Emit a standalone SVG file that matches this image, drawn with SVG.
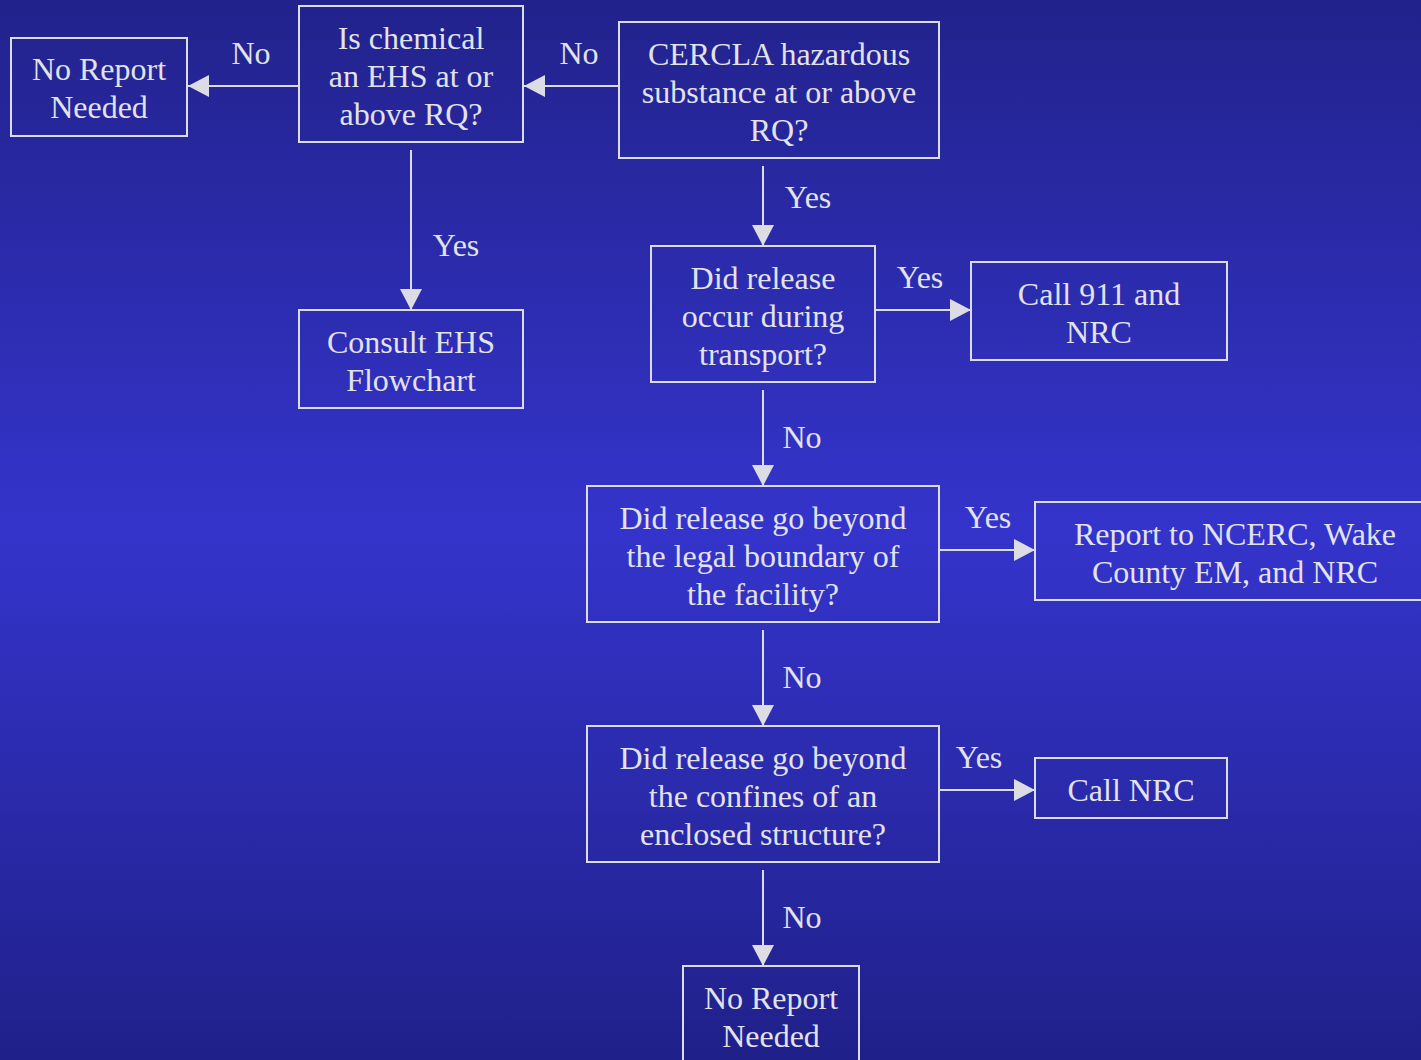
<svg xmlns="http://www.w3.org/2000/svg" width="1421" height="1060" viewBox="0 0 1421 1060">
<defs>
<linearGradient id="bg" x1="0" y1="0" x2="0" y2="1">
<stop offset="0" stop-color="#22228c"/>
<stop offset="0.5" stop-color="#3434cc"/>
<stop offset="1" stop-color="#20208a"/>
</linearGradient>
<marker id="ah" markerWidth="22" markerHeight="22" viewBox="0 0 22 22" refX="21" refY="11" orient="auto" markerUnits="userSpaceOnUse">
<path d="M0,0 L21,11 L0,22 Z" fill="#dcdce4"/>
</marker>
<style>
.box{fill:none;stroke:#dcdce4;stroke-width:2}
.t{font-family:"Liberation Serif","Times New Roman",serif;font-size:32px;fill:#e2e2ea;text-anchor:middle}
.c{stroke:#dcdce4;stroke-width:2;fill:none;marker-end:url(#ah)}
</style>
</defs>
<rect x="0" y="0" width="1421" height="1060" fill="url(#bg)"/>
<g id="connectors">
<line class="c" x1="619" y1="86" x2="524" y2="86"/>
<line class="c" x1="299" y1="86" x2="188" y2="86"/>
<line class="c" x1="411" y1="150" x2="411" y2="310"/>
<line class="c" x1="763" y1="166" x2="763" y2="246"/>
<line class="c" x1="875" y1="310" x2="971" y2="310"/>
<line class="c" x1="763" y1="390" x2="763" y2="486"/>
<line class="c" x1="939" y1="550" x2="1035" y2="550"/>
<line class="c" x1="763" y1="630" x2="763" y2="726"/>
<line class="c" x1="939" y1="790" x2="1035" y2="790"/>
<line class="c" x1="763" y1="870" x2="763" y2="966"/>
<text class="t" x="579" y="64">No</text>
<text class="t" x="251" y="64">No</text>
<text class="t" x="456" y="256">Yes</text>
<text class="t" x="808" y="208">Yes</text>
<text class="t" x="920" y="288">Yes</text>
<text class="t" x="802" y="448">No</text>
<text class="t" x="988" y="528">Yes</text>
<text class="t" x="802" y="688">No</text>
<text class="t" x="979" y="768">Yes</text>
<text class="t" x="802" y="928">No</text>
</g>
<g id="noReport1">
<rect class="box" x="11" y="38" width="176" height="98"/>
<text class="t" x="99" y="80">No Report</text>
<text class="t" x="99" y="118">Needed</text>
</g>
<g id="isEHS">
<rect class="box" x="299" y="6" width="224" height="136"/>
<text class="t" x="411" y="49">Is chemical</text>
<text class="t" x="411" y="87">an EHS at or</text>
<text class="t" x="411" y="125">above RQ?</text>
</g>
<g id="cercla">
<rect class="box" x="619" y="22" width="320" height="136"/>
<text class="t" x="779" y="65">CERCLA hazardous</text>
<text class="t" x="779" y="103">substance at or above</text>
<text class="t" x="779" y="141">RQ?</text>
</g>
<g id="consultEHS">
<rect class="box" x="299" y="310" width="224" height="98"/>
<text class="t" x="411" y="353">Consult EHS</text>
<text class="t" x="411" y="391">Flowchart</text>
</g>
<g id="transport">
<rect class="box" x="651" y="246" width="224" height="136"/>
<text class="t" x="763" y="289">Did release</text>
<text class="t" x="763" y="327">occur during</text>
<text class="t" x="763" y="365">transport?</text>
</g>
<g id="call911">
<rect class="box" x="971" y="262" width="256" height="98"/>
<text class="t" x="1099" y="305">Call 911 and</text>
<text class="t" x="1099" y="343">NRC</text>
</g>
<g id="boundary">
<rect class="box" x="587" y="486" width="352" height="136"/>
<text class="t" x="763" y="529">Did release go beyond</text>
<text class="t" x="763" y="567">the legal boundary of</text>
<text class="t" x="763" y="605">the facility?</text>
</g>
<g id="reportNCERC">
<rect class="box" x="1035" y="502" width="400" height="98"/>
<text class="t" x="1235" y="545">Report to NCERC, Wake</text>
<text class="t" x="1235" y="583">County EM, and NRC</text>
</g>
<g id="enclosed">
<rect class="box" x="587" y="726" width="352" height="136"/>
<text class="t" x="763" y="769">Did release go beyond</text>
<text class="t" x="763" y="807">the confines of an</text>
<text class="t" x="763" y="845">enclosed structure?</text>
</g>
<g id="callNRC">
<rect class="box" x="1035" y="758" width="192" height="60"/>
<text class="t" x="1131" y="801">Call NRC</text>
</g>
<g id="noReport2">
<rect class="box" x="683" y="966" width="176" height="110"/>
<text class="t" x="771" y="1009">No Report</text>
<text class="t" x="771" y="1047">Needed</text>
</g>
</svg>
